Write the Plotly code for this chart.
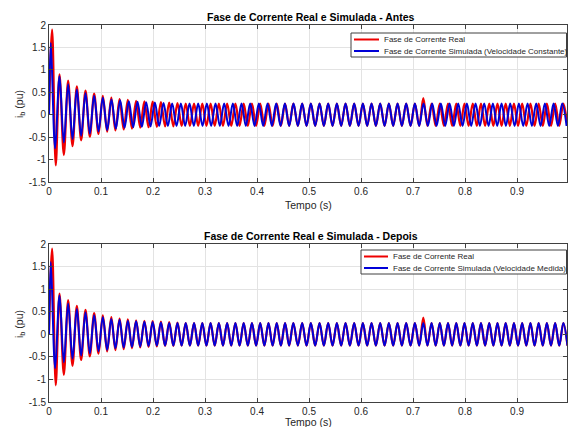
import plotly.graph_objects as go

# ---------------- data ----------------
# Times (ms) of each peak / trough of the measured current ("Real")
red_t_ms = [
    0, 6.0, 13.0, 20.2, 28.5, 36.8, 45.2, 53.5, 61.8, 70.2, 78.5, 86.8, 95.2, 103.5, 111.8,
    119.8, 127.7, 135.7, 143.6, 151.6, 159.5, 167.5, 175.4, 183.4, 191.4, 199.3, 207.3,
    215.2, 223.2, 231.1, 239.1, 247.0, 255.0, 262.9, 270.9, 278.9, 286.8, 294.8, 302.7,
    310.7, 318.6, 326.6, 334.5, 342.5, 350.4, 358.4, 366.4, 374.3, 382.3, 390.2, 398.2,
    406.1, 414.1, 422.0, 430.0, 437.9, 445.9, 453.9, 461.8, 469.8,
    478.5, 486.8, 495.2, 503.5, 511.8, 520.2, 528.5, 536.8, 545.2, 553.5, 561.8, 570.2,
    578.5, 586.8, 595.2, 603.5, 611.8, 620.2, 628.5, 636.8, 645.2, 653.5, 661.8, 670.2,
    678.5, 686.8, 695.2, 703.5, 711.8,
    719.7, 727.6, 735.6, 743.5, 751.4, 759.3, 767.2, 775.2, 783.1, 791.0, 798.9, 806.8,
    814.8, 822.7, 830.6, 838.5, 846.5, 854.4, 862.3, 870.2, 878.1, 886.1, 894.0, 901.9,
    909.8, 917.7, 925.7, 933.6, 941.5, 949.4, 957.3, 965.3, 973.2, 981.1, 989.0, 996.9,
]
red_v_transient = [0.0, 1.90, -1.13, 0.90, -0.90, 0.76, -0.70, 0.63, -0.57, 0.54, -0.49,
                   0.47, -0.43, 0.42, -0.38, 0.38, -0.35, 0.35, -0.33, 0.33, -0.31, 0.31,
                   -0.29, 0.30, -0.28, 0.29, -0.27, 0.28, -0.26, 0.27, -0.26, 0.26, -0.25]
steady_pair = [0.25, -0.25]
red_glitch_pair = [0.37, -0.25]
red_v = red_v_transient + steady_pair * 28 + red_glitch_pair + steady_pair * 17

# Simulated current, constant speed (top panel)
blue_const_t_ms = [
    0,
    3.5, 11.8, 20.2, 28.5, 36.8, 45.2, 53.5, 61.8, 70.2, 78.5, 86.8, 95.2,
    103.5, 111.8, 120.2, 128.5, 136.8, 145.2, 153.5, 161.8, 170.2, 178.5, 186.8, 195.2,
    203.5, 211.8, 220.2, 228.5, 236.8, 245.2, 253.5, 261.8, 270.2, 278.5, 286.8, 295.2,
    303.5, 311.8, 320.2, 328.5, 336.8, 345.2, 353.5, 361.8, 370.2, 378.5, 386.8, 395.2,
    403.5, 411.8, 420.2, 428.5, 436.8, 445.2, 453.5, 461.8, 470.2, 478.5, 486.8, 495.2,
    503.5, 511.8, 520.2, 528.5, 536.8, 545.2, 553.5, 561.8, 570.2, 578.5, 586.8, 595.2,
    603.5, 611.8, 620.2, 628.5, 636.8, 645.2, 653.5, 661.8, 670.2, 678.5, 686.8, 695.2,
    703.5, 711.8, 720.2, 728.5, 736.8, 745.2, 753.5, 761.8, 770.2, 778.5, 786.8, 795.2,
    803.5, 811.8, 820.2, 828.5, 836.8, 845.2, 853.5, 861.8, 870.2, 878.5, 886.8, 895.2,
    903.5, 911.8, 920.2, 928.5, 936.8, 945.2, 953.5, 961.8, 970.2, 978.5, 986.8, 995.2,
]
blue_v_transient = [0.0, 1.60, -0.75, 0.86, -0.62, 0.68, -0.54, 0.56, -0.47, 0.48, -0.42,
                    0.42, -0.37, 0.38, -0.34, 0.34, -0.31, 0.32, -0.29, 0.30, -0.28, 0.29,
                    -0.27, 0.28, -0.26, 0.27, -0.25, 0.26, -0.25]
blue_const_v = blue_v_transient + steady_pair * 46

# Simulated current, measured speed (bottom panel) follows the real extrema times
blue_meas_t_ms = blue_const_t_ms[:15] + red_t_ms[15:]
blue_meas_v = blue_v_transient + steady_pair * 48

x_ticks = [0, 0.1, 0.2, 0.3, 0.4, 0.5, 0.6, 0.7, 0.8, 0.9]
y_ticks = [-1.5, -1, -0.5, 0, 0.5, 1, 1.5, 2]

titles = ["Fase de Corrente Real e Simulada - Antes",
          "Fase de Corrente Real e Simulada - Depois"]
name_red = "Fase de Corrente Real"
names_blue = ["Fase de Corrente Simulada (Velocidade Constante)",
              "Fase de Corrente Simulada (Velocidade Medida)"]

# ---------------- figure ----------------
FONT = "Liberation Sans, Arial, sans-serif"
RED = "#ee0000"
BLUE = "#0000d8"
W, H = 568, 427
L_MARGIN, R_MARGIN = 49, 1
T_MARGIN, B_MARGIN = 25, 25
plot_w = W - L_MARGIN - R_MARGIN
plot_h = H - T_MARGIN - B_MARGIN


def ms_to_s(v):
    return [t / 1000.0 for t in v]


def px(pix):
    return (pix - L_MARGIN) / plot_w


def py(pix):
    return 1 - (pix - T_MARGIN) / plot_h


fig = go.Figure()
panels = [
    ("x", "y", blue_const_t_ms, blue_const_v),
    ("x2", "y2", blue_meas_t_ms, blue_meas_v),
]
for i, (xa, ya, bt, bv) in enumerate(panels):
    fig.add_trace(go.Scatter(
        x=ms_to_s(red_t_ms), y=red_v, mode="lines", name=name_red,
        line=dict(color=RED, width=2.2, shape="spline", smoothing=1.0),
        xaxis=xa, yaxis=ya, showlegend=False))
    fig.add_trace(go.Scatter(
        x=ms_to_s(bt), y=bv, mode="lines", name=names_blue[i],
        line=dict(color=BLUE, width=2.0, shape="spline", smoothing=1.0),
        xaxis=xa, yaxis=ya, showlegend=False))

axis_common = dict(
    showline=True, linecolor="#404040", linewidth=1, mirror="ticks",
    ticks="inside", ticklen=4, tickcolor="#404040", tickwidth=1,
    showgrid=True, gridcolor="#e3e3e3", gridwidth=1, zeroline=False,
    tickfont=dict(family=FONT, size=10, color="#262626"),
)

xaxis = dict(axis_common, range=[0, 0.996], tickvals=x_ticks,
             ticktext=[f"{v:g}" for v in x_ticks], domain=[0, 1])
yaxis = dict(axis_common, range=[-1.5, 2], tickvals=y_ticks,
             ticktext=[f"{v:g}" for v in y_ticks])

fig.update_layout(
    width=W, height=H,
    margin=dict(l=L_MARGIN, r=R_MARGIN, t=T_MARGIN, b=B_MARGIN, autoexpand=False),
    paper_bgcolor="white", plot_bgcolor="white",
    font=dict(family=FONT, size=10, color="#262626"),
    xaxis=dict(xaxis, anchor="y"),
    yaxis=dict(yaxis, anchor="x", domain=[py(182), py(25)]),
    xaxis2=dict(xaxis, anchor="y2"),
    yaxis2=dict(yaxis, anchor="x2", domain=[py(402), py(244)]),
    showlegend=False,
)

ann = []
shapes = []
for title, ty in zip(titles, [17, 236]):
    ann.append(dict(text=f"<b>{title}</b>", x=px(311), y=py(ty), xref="paper", yref="paper",
                    xanchor="center", yanchor="middle", showarrow=False,
                    font=dict(family=FONT, size=10.5, color="#000000")))
for ty in [204.5, 421.5]:
    ann.append(dict(text="Tempo (s)", x=px(308), y=py(ty), xref="paper", yref="paper",
                    xanchor="center", yanchor="middle", showarrow=False,
                    font=dict(family=FONT, size=10.5, color="#262626")))
for ty in [104, 324]:
    ann.append(dict(text="i<sub>b</sub> (pu)", x=px(20), y=py(ty),
                    xref="paper", yref="paper", xanchor="center", yanchor="middle",
                    textangle=-90, showarrow=False,
                    font=dict(family=FONT, size=10.5, color="#262626")))

# legends drawn as boxes (MATLAB style: compact)
legend_boxes = [  # left, top, bottom, sample x0, sample x1, text x, row1 y, row2 y
    (351, 33, 57, 354, 379, 382, 39.5, 51),
    (361, 250, 274, 364, 388, 391, 256.5, 268),
]
for i, (lx, ty, by, sx0, sx1, tx, r1, r2) in enumerate(legend_boxes):
    shapes.append(dict(type="rect", xref="paper", yref="paper",
                       x0=px(lx), x1=px(566.5), y0=py(by), y1=py(ty),
                       line=dict(color="#404040", width=1), fillcolor="white",
                       layer="above"))
    for yy, col, label in [(r1, RED, name_red), (r2, BLUE, names_blue[i])]:
        shapes.append(dict(type="line", xref="paper", yref="paper",
                           x0=px(sx0), x1=px(sx1), y0=py(yy), y1=py(yy),
                           line=dict(color=col, width=2), layer="above"))
        ann.append(dict(text=label, x=px(tx), y=py(yy), xref="paper", yref="paper",
                        xanchor="left", yanchor="middle", showarrow=False,
                        font=dict(family=FONT, size=8, color="#262626")))

fig.update_layout(annotations=ann, shapes=shapes)

fig.write_html("out.html", config={"displayModeBar": False},
               post_script="document.body.style.margin='0';")
